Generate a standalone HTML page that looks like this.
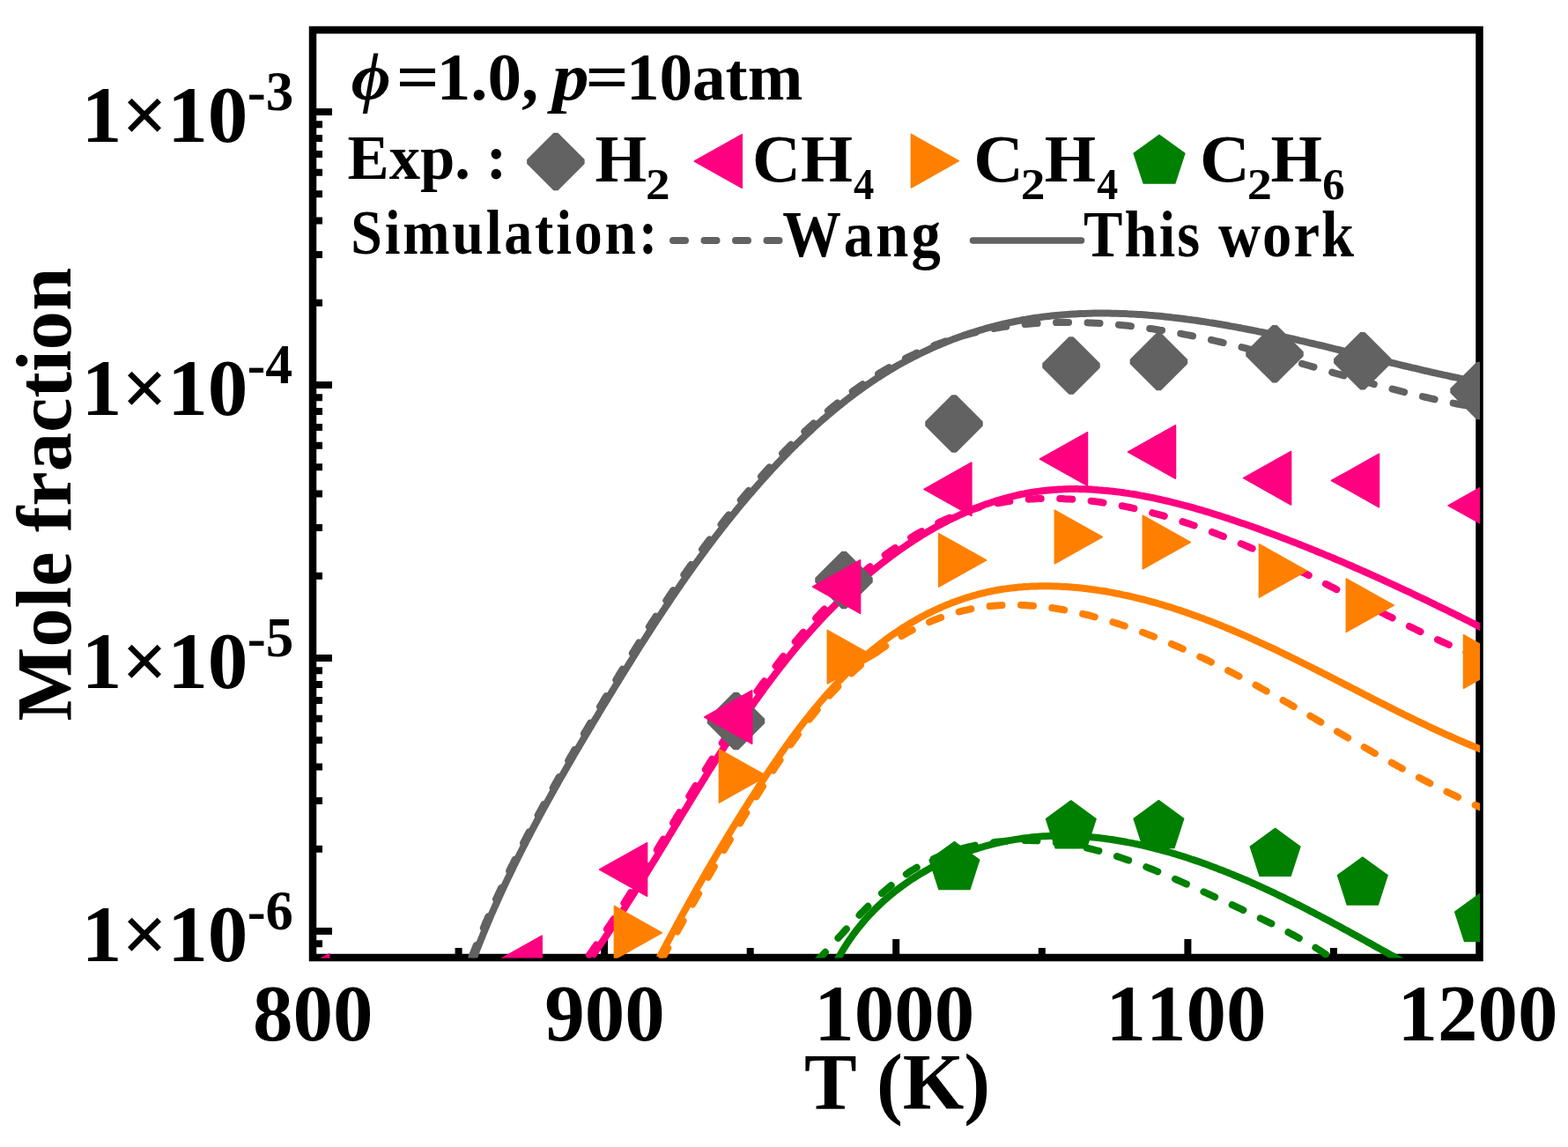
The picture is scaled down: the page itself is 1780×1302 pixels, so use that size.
<!DOCTYPE html>
<html><head><meta charset="utf-8"><title>Mole fraction vs T</title><style>html,body{margin:0;padding:0;background:#fff;overflow:hidden}svg{display:block}text{font-kerning:none;font-variant-ligatures:none}</style></head>
<body><svg width="1780" height="1302" viewBox="0 0 1780 1302">
<defs><clipPath id="c"><rect x="355" y="34" width="1325.0" height="1053.5"/></clipPath></defs>
<rect width="1780" height="1302" fill="#fff"/>
<g font-family="Liberation Serif, 'Times New Roman', serif" font-weight="bold" fill="#000">
<text transform="translate(92.70,160.80) scale(1.0022,1)" font-size="91">1×10</text>
<text transform="translate(280.69,124.80)" font-size="63">-3</text>
<text transform="translate(92.70,470.80) scale(1.0022,1)" font-size="91">1×10</text>
<text transform="translate(280.74,434.80) scale(0.9795,1)" font-size="63">-4</text>
<text transform="translate(92.70,780.80) scale(1.0022,1)" font-size="91">1×10</text>
<text transform="translate(280.69,744.80) scale(1.0028,1)" font-size="63">-5</text>
<text transform="translate(92.70,1090.80) scale(1.0022,1)" font-size="91">1×10</text>
<text transform="translate(280.71,1054.80) scale(0.9932,1)" font-size="63">-6</text>
<text transform="translate(286.97,1181.00)" font-size="91">800</text>
<text transform="translate(618.36,1181.00)" font-size="91">900</text>
<text transform="translate(924.34,1181.00)" font-size="91">1000</text>
<text transform="translate(1255.46,1181.00)" font-size="91">1100</text>
<text transform="translate(1586.59,1181.00)" font-size="91">1200</text>
<text transform="translate(912.90,1258.70) scale(0.9941,1)" font-size="90">T (K)</text>
<text transform="translate(80,818.52) rotate(-90) scale(0.9968,1)" font-size="89">Mole fraction</text>
<text transform="translate(398.69,112.90) scale(1.0063,1)" font-size="77" font-style="italic">ϕ</text>
<text transform="translate(449.73,112.90) scale(1.1147,1)" font-size="77">=</text>
<text transform="translate(495.64,112.90)" font-size="77">1.0,</text>
<text transform="translate(626.93,112.90) scale(1.0802,1)" font-size="77" font-style="italic">p</text>
<text transform="translate(664.49,112.90) scale(1.1231,1)" font-size="77">=</text>
<text transform="translate(710.88,112.90) scale(0.9762,1)" font-size="77">10atm</text>
<text transform="translate(394.59,202.90) scale(0.9814,1)" font-size="72">Exp. :</text>
<text transform="translate(675.61,206.20) scale(0.9920,1)" font-size="76">H</text>
<text transform="translate(732.98,226.00) scale(1.1035,1)" font-size="50">2</text>
<text transform="translate(854.09,206.20) scale(0.9988,1)" font-size="76">CH</text>
<text transform="translate(969.06,226.00) scale(0.9321,1)" font-size="50">4</text>
<text transform="translate(1105.17,206.20) scale(1.0312,1)" font-size="76">C</text>
<text transform="translate(1158.67,226.00) scale(1.1083,1)" font-size="50">2</text>
<text transform="translate(1185.82,206.20) scale(0.9867,1)" font-size="76">H</text>
<text transform="translate(1245.15,226.00) scale(0.9577,1)" font-size="50">4</text>
<text transform="translate(1362.06,206.20) scale(1.0356,1)" font-size="76">C</text>
<text transform="translate(1415.63,226.00) scale(1.1276,1)" font-size="50">2</text>
<text transform="translate(1442.62,206.20) scale(0.9884,1)" font-size="76">H</text>
<text transform="translate(1501.27,226.00) scale(1.0125,1)" font-size="50">6</text>
<text transform="translate(398.30,288.10) scale(0.9000,1)" font-size="71" letter-spacing="3.16">Simulation:</text>
<text transform="translate(888.16,291.20) scale(0.9000,1)" font-size="74" letter-spacing="3.46">Wang</text>
<text transform="translate(1230.06,291.20) scale(0.9000,1)" font-size="74" letter-spacing="2.31">This work</text>
</g>
<path d="M355,1071.2h11 M355,1057.0h22 M355,963.7h11 M355,909.1h11 M355,870.4h11 M355,840.3h11 M355,815.8h11 M355,795.0h11 M355,777.0h11 M355,761.2h11 M355,747.0h22 M355,653.7h11 M355,599.1h11 M355,560.4h11 M355,530.3h11 M355,505.8h11 M355,485.0h11 M355,467.0h11 M355,451.2h11 M355,437.0h22 M355,343.7h11 M355,289.1h11 M355,250.4h11 M355,220.3h11 M355,195.8h11 M355,175.0h11 M355,157.0h11 M355,141.2h11 M355,127.0h22 M520.6,1087v-11 M686.1,1087v-21 M851.7,1087v-11 M1017.2,1087v-21 M1182.8,1087v-11 M1348.4,1087v-21 M1513.9,1087v-11" stroke="#000" stroke-width="8" fill="none"/>
<rect x="355" y="34" width="1324.5" height="1053" fill="none" stroke="#000" stroke-width="8.5"/>
<g clip-path="url(#c)">
<path d="M535.5,1086.1 L536.6,1083.3 L537.7,1080.5 L538.8,1077.7 L539.9,1074.9 L541.0,1072.1 L542.1,1069.4 L543.2,1066.6 L544.4,1063.8 L545.5,1061.0 L546.7,1058.3 L547.8,1055.5 L549.0,1052.8 L550.1,1050.0 L551.3,1047.2 L552.5,1044.5 L553.7,1041.7 L554.9,1039.0 L556.1,1036.2 L557.3,1033.5 L558.5,1030.8 L559.7,1028.0 L561.0,1025.3 L562.2,1022.6 L563.4,1019.8 L564.7,1017.1 L565.9,1014.4 L567.2,1011.7 L568.5,1009.0 L569.7,1006.3 L571.0,1003.5 L572.3,1000.8 L573.6,998.1 L574.9,995.4 L576.2,992.7 L577.5,990.0 L578.8,987.3 L580.1,984.6 L581.4,982.0 L582.8,979.3 L584.1,976.6 L585.4,973.9 L586.8,971.2 L588.1,968.5 L589.5,965.9 L590.8,963.2 L592.2,960.5 L593.6,957.9 L594.9,955.2 L596.3,952.5 L597.7,949.9 L599.1,947.2 L600.5,944.6 L601.9,941.9 L603.3,939.3 L604.7,936.6 L606.1,934.0 L607.5,931.3 L608.9,928.7 L610.3,926.0 L611.7,923.4 L613.1,920.8 L614.6,918.1 L616.0,915.5 L617.4,912.9 L618.9,910.2 L620.3,907.6 L621.8,905.0 L623.2,902.4 L624.7,899.7 L626.1,897.1 L627.6,894.5 L629.0,891.9 L630.5,889.3 L632.0,886.7 L633.4,884.1 L634.9,881.4 L636.4,878.8 L637.9,876.2 L639.3,873.6 L640.8,871.0 L642.3,868.4 L643.8,865.8 L645.3,863.2 L646.8,860.6 L648.3,858.0 L649.8,855.4 L651.3,852.8 L652.8,850.2 L654.3,847.7 L655.8,845.1 L657.3,842.5 L658.8,839.9 L660.3,837.3 L661.8,834.7 L663.3,832.1 L664.9,829.5 L666.4,827.0 L667.9,824.4 L669.4,821.8 L670.9,819.2 L672.5,816.6 L674.0,814.1 L675.5,811.5 L677.0,808.9 L678.6,806.3 L680.1,803.7 L681.6,801.2 L683.2,798.6 L684.7,796.0 L686.2,793.4 L687.8,790.9 L689.3,788.3 L690.8,785.7 L692.4,783.2 L693.9,780.6 L695.5,778.0 L697.0,775.5 L698.6,772.9 L700.1,770.3 L701.7,767.8 L703.2,765.2 L704.8,762.7 L706.4,760.1 L707.9,757.5 L709.5,755.0 L711.1,752.4 L712.6,749.9 L714.2,747.3 L715.8,744.8 L717.4,742.2 L719.0,739.7 L720.5,737.2 L722.1,734.6 L723.7,732.1 L725.3,729.5 L726.9,727.0 L728.5,724.5 L730.1,722.0 L731.7,719.4 L733.3,716.9 L735.0,714.4 L736.6,711.9 L738.2,709.3 L739.8,706.8 L741.5,704.3 L743.1,701.8 L744.7,699.3 L746.4,696.8 L748.0,694.3 L749.7,691.8 L751.3,689.3 L753.0,686.8 L754.6,684.3 L756.3,681.8 L758.0,679.3 L759.6,676.8 L761.3,674.3 L763.0,671.8 L764.7,669.4 L766.4,666.9 L768.1,664.4 L769.8,662.0 L771.5,659.5 L773.2,657.0 L774.9,654.6 L776.6,652.1 L778.3,649.7 L780.1,647.2 L781.8,644.8 L783.5,642.3 L785.3,639.9 L787.0,637.5 L788.8,635.0 L790.5,632.6 L792.3,630.2 L794.1,627.8 L795.8,625.3 L797.6,622.9 L799.4,620.5 L801.2,618.1 L803.0,615.7 L804.8,613.3 L806.6,610.9 L808.4,608.6 L810.2,606.2 L812.0,603.8 L813.9,601.4 L815.7,599.0 L817.5,596.7 L819.4,594.3 L821.2,592.0 L823.1,589.6 L824.9,587.3 L826.8,584.9 L828.7,582.6 L830.6,580.2 L832.4,577.9 L834.3,575.6 L836.2,573.3 L838.1,571.0 L840.0,568.6 L842.0,566.3 L843.9,564.0 L845.8,561.8 L847.7,559.5 L849.7,557.2 L851.6,554.9 L853.6,552.6 L855.5,550.4 L857.5,548.1 L859.5,545.9 L861.5,543.6 L863.5,541.4 L865.5,539.1 L867.5,536.9 L869.5,534.7 L871.5,532.5 L873.5,530.3 L875.5,528.1 L877.6,525.9 L879.6,523.7 L881.7,521.5 L883.7,519.3 L885.8,517.1 L887.9,515.0 L890.0,512.8 L892.1,510.7 L894.2,508.6 L896.3,506.4 L898.4,504.3 L900.5,502.2 L902.7,500.1 L904.8,498.0 L907.0,495.9 L909.1,493.9 L911.3,491.8 L913.5,489.7 L915.7,487.7 L917.9,485.7 L920.1,483.6 L922.3,481.6 L924.5,479.6 L926.7,477.6 L929.0,475.6 L931.2,473.6 L933.5,471.7 L935.8,469.7 L938.1,467.8 L940.4,465.9 L942.7,463.9 L945.0,462.0 L947.3,460.1 L949.6,458.3 L952.0,456.4 L954.3,454.5 L956.7,452.7 L959.0,450.9 L961.4,449.0 L963.8,447.2 L966.2,445.4 L968.6,443.7 L971.1,441.9 L973.5,440.2 L975.9,438.4 L978.4,436.7 L980.9,435.0 L983.3,433.3 L985.8,431.6 L988.3,430.0 L990.8,428.4 L993.4,426.7 L995.9,425.1 L998.4,423.5 L1001.0,422.0 L1003.5,420.4 L1006.1,418.9 L1008.7,417.4 L1011.3,415.9 L1013.9,414.4 L1016.5,412.9 L1019.1,411.5 L1021.8,410.1 L1024.4,408.7 L1027.1,407.3 L1029.7,405.9 L1032.4,404.6 L1035.1,403.3 L1037.8,402.0 L1040.5,400.7 L1043.3,399.4 L1046.0,398.2 L1048.7,397.0 L1051.5,395.8 L1054.2,394.6 L1057.0,393.5 L1059.8,392.4 L1062.6,391.3 L1065.4,390.2 L1068.2,389.2 L1071.0,388.2 L1073.8,387.2 L1076.7,386.2 L1079.5,385.2 L1082.4,384.3 L1085.2,383.4 L1088.1,382.6 L1091.0,381.7 L1093.8,380.9 L1096.7,380.1 L1099.6,379.3 L1102.5,378.6 L1105.4,377.9 L1108.3,377.2 L1111.3,376.5 L1114.2,375.8 L1117.1,375.2 L1120.1,374.6 L1123.0,374.0 L1125.9,373.4 L1128.9,372.9 L1131.8,372.4 L1134.8,371.9 L1137.7,371.4 L1140.7,370.9 L1143.7,370.5 L1146.6,370.1 L1149.6,369.7 L1152.6,369.3 L1155.6,369.0 L1158.5,368.6 L1161.5,368.3 L1164.5,368.0 L1167.5,367.8 L1170.5,367.5 L1173.5,367.3 L1176.4,367.1 L1179.4,366.9 L1182.4,366.7 L1185.4,366.5 L1188.4,366.4 L1191.4,366.3 L1194.4,366.2 L1197.4,366.1 L1200.4,366.0 L1203.4,365.9 L1206.4,365.9 L1209.4,365.9 L1212.4,365.9 L1215.4,365.9 L1218.4,365.9 L1221.4,365.9 L1224.4,366.0 L1227.3,366.1 L1230.3,366.2 L1233.3,366.3 L1236.3,366.4 L1239.3,366.5 L1242.3,366.7 L1245.3,366.8 L1248.3,367.0 L1251.3,367.2 L1254.3,367.4 L1257.3,367.6 L1260.3,367.9 L1263.2,368.1 L1266.2,368.4 L1269.2,368.6 L1272.2,368.9 L1275.2,369.2 L1278.2,369.5 L1281.1,369.8 L1284.1,370.2 L1287.1,370.5 L1290.1,370.9 L1293.0,371.3 L1296.0,371.6 L1299.0,372.0 L1301.9,372.5 L1304.9,372.9 L1307.9,373.3 L1310.8,373.7 L1313.8,374.2 L1316.8,374.7 L1319.7,375.1 L1322.7,375.6 L1325.6,376.1 L1328.6,376.6 L1331.5,377.1 L1334.5,377.7 L1337.4,378.2 L1340.4,378.7 L1343.3,379.3 L1346.3,379.9 L1349.2,380.4 L1352.2,381.0 L1355.1,381.6 L1358.0,382.2 L1361.0,382.8 L1363.9,383.4 L1366.8,384.1 L1369.7,384.7 L1372.7,385.4 L1375.6,386.0 L1378.5,386.7 L1381.4,387.3 L1384.4,388.0 L1387.3,388.7 L1390.2,389.4 L1393.1,390.1 L1396.0,390.8 L1398.9,391.5 L1401.8,392.2 L1404.7,392.9 L1407.7,393.7 L1410.6,394.4 L1413.5,395.1 L1416.4,395.9 L1419.3,396.6 L1422.2,397.4 L1425.1,398.2 L1428.0,398.9 L1430.8,399.7 L1433.7,400.5 L1436.6,401.3 L1439.5,402.0 L1442.4,402.8 L1445.3,403.6 L1448.2,404.4 L1451.1,405.2 L1454.0,406.0 L1456.9,406.8 L1459.7,407.6 L1462.6,408.4 L1465.5,409.2 L1468.4,410.1 L1471.3,410.9 L1474.2,411.7 L1477.0,412.5 L1479.9,413.3 L1482.8,414.2 L1485.7,415.0 L1488.6,415.8 L1491.4,416.6 L1494.3,417.5 L1497.2,418.3 L1500.1,419.1 L1503.0,420.0 L1505.8,420.8 L1508.7,421.6 L1511.6,422.4 L1514.5,423.3 L1517.4,424.1 L1520.2,424.9 L1523.1,425.7 L1526.0,426.6 L1528.9,427.4 L1531.8,428.2 L1534.7,429.0 L1537.5,429.8 L1540.4,430.6 L1543.3,431.5 L1546.2,432.3 L1549.1,433.1 L1552.0,433.9 L1554.9,434.7 L1557.7,435.5 L1560.6,436.3 L1563.5,437.0 L1566.4,437.8 L1569.3,438.6 L1572.2,439.4 L1575.1,440.2 L1578.0,440.9 L1580.9,441.7 L1583.8,442.4 L1586.7,443.2 L1589.6,443.9 L1592.5,444.7 L1595.4,445.4 L1598.3,446.1 L1601.2,446.8 L1604.1,447.6 L1607.0,448.3 L1610.0,449.0 L1612.9,449.7 L1615.8,450.3 L1618.7,451.0 L1621.6,451.7 L1624.5,452.4 L1627.5,453.0 L1630.4,453.7 L1633.3,454.3 L1636.3,454.9 L1639.2,455.5 L1642.1,456.1 L1645.1,456.7 L1648.0,457.3 L1650.9,457.9 L1653.9,458.5 L1656.8,459.0 L1659.8,459.6 L1662.7,460.1 L1665.7,460.7 L1668.6,461.2 L1671.6,461.7 L1674.5,462.2 L1677.5,462.7 L1680.4,463.1 L1683.4,463.6" stroke="#626262" stroke-width="8" fill="none" stroke-dasharray="14 21.5" stroke-linecap="round"/>
<path d="M668.9,1084.0 L670.7,1081.5 L672.4,1079.1 L674.1,1076.6 L675.8,1074.2 L677.5,1071.7 L679.2,1069.2 L680.9,1066.8 L682.6,1064.3 L684.3,1061.8 L686.0,1059.3 L687.7,1056.8 L689.3,1054.3 L691.0,1051.8 L692.7,1049.3 L694.3,1046.8 L696.0,1044.3 L697.6,1041.8 L699.2,1039.3 L700.9,1036.8 L702.5,1034.3 L704.1,1031.8 L705.8,1029.2 L707.4,1026.7 L709.0,1024.2 L710.6,1021.6 L712.2,1019.1 L713.8,1016.6 L715.4,1014.0 L717.0,1011.5 L718.6,1009.0 L720.2,1006.4 L721.8,1003.9 L723.4,1001.3 L724.9,998.8 L726.5,996.2 L728.1,993.7 L729.7,991.1 L731.2,988.6 L732.8,986.0 L734.4,983.4 L735.9,980.9 L737.5,978.3 L739.0,975.7 L740.6,973.2 L742.1,970.6 L743.7,968.1 L745.3,965.5 L746.8,962.9 L748.4,960.3 L749.9,957.8 L751.4,955.2 L753.0,952.6 L754.5,950.1 L756.1,947.5 L757.6,944.9 L759.2,942.3 L760.7,939.8 L762.3,937.2 L763.8,934.6 L765.3,932.1 L766.9,929.5 L768.4,926.9 L770.0,924.3 L771.5,921.8 L773.1,919.2 L774.6,916.6 L776.2,914.1 L777.7,911.5 L779.3,908.9 L780.8,906.3 L782.4,903.8 L783.9,901.2 L785.5,898.6 L787.0,896.1 L788.6,893.5 L790.1,891.0 L791.7,888.4 L793.3,885.8 L794.8,883.3 L796.4,880.7 L798.0,878.2 L799.5,875.6 L801.1,873.1 L802.7,870.5 L804.3,868.0 L805.9,865.4 L807.5,862.9 L809.0,860.3 L810.6,857.8 L812.2,855.2 L813.8,852.7 L815.4,850.2 L817.1,847.6 L818.7,845.1 L820.3,842.6 L821.9,840.1 L823.5,837.5 L825.2,835.0 L826.8,832.5 L828.4,830.0 L830.1,827.5 L831.7,825.0 L833.4,822.5 L835.1,820.0 L836.7,817.5 L838.4,815.0 L840.1,812.5 L841.7,810.0 L843.4,807.5 L845.1,805.1 L846.8,802.6 L848.5,800.1 L850.2,797.7 L851.9,795.2 L853.7,792.7 L855.4,790.3 L857.1,787.8 L858.9,785.4 L860.6,783.0 L862.4,780.5 L864.1,778.1 L865.9,775.7 L867.7,773.3 L869.5,770.8 L871.2,768.4 L873.0,766.0 L874.8,763.6 L876.7,761.2 L878.5,758.9 L880.3,756.5 L882.1,754.1 L884.0,751.7 L885.8,749.4 L887.7,747.0 L889.5,744.7 L891.4,742.3 L893.3,740.0 L895.2,737.6 L897.1,735.3 L899.0,733.0 L900.9,730.7 L902.8,728.4 L904.8,726.1 L906.7,723.8 L908.6,721.5 L910.6,719.2 L912.6,717.0 L914.5,714.7 L916.5,712.5 L918.5,710.2 L920.5,708.0 L922.5,705.8 L924.5,703.5 L926.6,701.3 L928.6,699.1 L930.6,696.9 L932.7,694.7 L934.8,692.6 L936.8,690.4 L938.9,688.2 L941.0,686.1 L943.1,683.9 L945.2,681.8 L947.3,679.7 L949.5,677.6 L951.6,675.5 L953.8,673.4 L955.9,671.3 L958.1,669.3 L960.3,667.2 L962.5,665.2 L964.7,663.1 L966.9,661.1 L969.1,659.1 L971.4,657.1 L973.6,655.1 L975.9,653.1 L978.2,651.2 L980.4,649.2 L982.7,647.3 L985.0,645.4 L987.4,643.5 L989.7,641.6 L992.0,639.7 L994.4,637.9 L996.8,636.0 L999.1,634.2 L1001.5,632.4 L1003.9,630.6 L1006.3,628.8 L1008.8,627.0 L1011.2,625.3 L1013.7,623.6 L1016.1,621.9 L1018.6,620.2 L1021.1,618.5 L1023.6,616.8 L1026.1,615.2 L1028.6,613.6 L1031.2,612.0 L1033.7,610.4 L1036.3,608.9 L1038.9,607.3 L1041.5,605.8 L1044.1,604.3 L1046.7,602.9 L1049.3,601.4 L1052.0,600.0 L1054.6,598.6 L1057.3,597.2 L1060.0,595.9 L1062.7,594.6 L1065.4,593.3 L1068.1,592.0 L1070.8,590.8 L1073.6,589.5 L1076.3,588.4 L1079.1,587.2 L1081.9,586.1 L1084.6,585.0 L1087.4,583.9 L1090.3,582.8 L1093.1,581.8 L1095.9,580.8 L1098.8,579.9 L1101.6,579.0 L1104.5,578.1 L1107.4,577.2 L1110.2,576.4 L1113.1,575.6 L1116.0,574.9 L1119.0,574.1 L1121.9,573.5 L1124.8,572.8 L1127.7,572.2 L1130.7,571.6 L1133.6,571.0 L1136.6,570.5 L1139.5,570.0 L1142.5,569.5 L1145.5,569.1 L1148.4,568.7 L1151.4,568.3 L1154.4,567.9 L1157.4,567.6 L1160.4,567.3 L1163.3,567.1 L1166.3,566.8 L1169.3,566.6 L1172.3,566.4 L1175.3,566.3 L1178.3,566.1 L1181.3,566.0 L1184.3,566.0 L1187.3,565.9 L1190.3,565.9 L1193.3,565.9 L1196.3,565.9 L1199.3,566.0 L1202.3,566.0 L1205.3,566.1 L1208.3,566.3 L1211.3,566.4 L1214.3,566.6 L1217.3,566.8 L1220.3,567.0 L1223.3,567.2 L1226.3,567.5 L1229.3,567.7 L1232.2,568.0 L1235.2,568.3 L1238.2,568.7 L1241.2,569.0 L1244.2,569.4 L1247.1,569.8 L1250.1,570.2 L1253.1,570.7 L1256.0,571.1 L1259.0,571.6 L1262.0,572.1 L1264.9,572.6 L1267.9,573.1 L1270.8,573.7 L1273.8,574.2 L1276.7,574.8 L1279.6,575.4 L1282.6,576.0 L1285.5,576.7 L1288.4,577.3 L1291.4,578.0 L1294.3,578.6 L1297.2,579.3 L1300.1,580.1 L1303.0,580.8 L1305.9,581.5 L1308.8,582.3 L1311.7,583.0 L1314.6,583.8 L1317.5,584.6 L1320.4,585.4 L1323.3,586.3 L1326.2,587.1 L1329.1,588.0 L1331.9,588.8 L1334.8,589.7 L1337.7,590.6 L1340.5,591.5 L1343.4,592.4 L1346.2,593.4 L1349.1,594.3 L1351.9,595.3 L1354.8,596.2 L1357.6,597.2 L1360.4,598.2 L1363.2,599.2 L1366.1,600.2 L1368.9,601.3 L1371.7,602.3 L1374.5,603.4 L1377.3,604.4 L1380.1,605.5 L1382.9,606.6 L1385.7,607.7 L1388.5,608.8 L1391.3,609.9 L1394.1,611.0 L1396.8,612.1 L1399.6,613.3 L1402.4,614.4 L1405.2,615.6 L1407.9,616.8 L1410.7,617.9 L1413.4,619.1 L1416.2,620.3 L1418.9,621.5 L1421.7,622.7 L1424.4,623.9 L1427.2,625.2 L1429.9,626.4 L1432.6,627.6 L1435.4,628.9 L1438.1,630.1 L1440.8,631.4 L1443.5,632.7 L1446.2,633.9 L1449.0,635.2 L1451.7,636.5 L1454.4,637.8 L1457.1,639.1 L1459.8,640.4 L1462.5,641.7 L1465.2,643.0 L1467.9,644.3 L1470.6,645.6 L1473.3,646.9 L1476.0,648.2 L1478.7,649.6 L1481.4,650.9 L1484.0,652.2 L1486.7,653.6 L1489.4,654.9 L1492.1,656.3 L1494.8,657.6 L1497.4,659.0 L1500.1,660.3 L1502.8,661.7 L1505.5,663.1 L1508.1,664.4 L1510.8,665.8 L1513.5,667.1 L1516.2,668.5 L1518.8,669.9 L1521.5,671.2 L1524.2,672.6 L1526.8,674.0 L1529.5,675.4 L1532.2,676.7 L1534.8,678.1 L1537.5,679.5 L1540.2,680.8 L1542.8,682.2 L1545.5,683.6 L1548.2,684.9 L1550.9,686.3 L1553.5,687.7 L1556.2,689.0 L1558.9,690.4 L1561.5,691.8 L1564.2,693.1 L1566.9,694.5 L1569.6,695.8 L1572.2,697.2 L1574.9,698.6 L1577.6,699.9 L1580.3,701.2 L1583.0,702.6 L1585.6,703.9 L1588.3,705.3 L1591.0,706.6 L1593.7,707.9 L1596.4,709.2 L1599.1,710.6 L1601.8,711.9 L1604.5,713.2 L1607.2,714.5 L1609.9,715.8 L1612.6,717.1 L1615.3,718.4 L1618.0,719.7 L1620.7,720.9 L1623.5,722.2 L1626.2,723.5 L1628.9,724.7 L1631.6,726.0 L1634.4,727.2 L1637.1,728.5 L1639.8,729.7 L1642.6,730.9 L1645.3,732.1 L1648.1,733.3 L1650.8,734.5 L1653.6,735.7 L1656.3,736.9 L1659.1,738.1 L1661.8,739.3 L1664.6,740.4 L1667.4,741.6 L1670.2,742.7 L1672.9,743.8 L1675.7,744.9 L1678.5,746.0 L1681.3,747.1 L1684.1,748.2" stroke="#FF0080" stroke-width="8" fill="none" stroke-dasharray="14 21.5" stroke-linecap="round"/>
<path d="M751.5,1088.5 L752.9,1085.9 L754.4,1083.3 L755.9,1080.7 L757.3,1078.1 L758.8,1075.4 L760.2,1072.8 L761.7,1070.2 L763.1,1067.6 L764.6,1065.0 L766.1,1062.4 L767.5,1059.8 L769.0,1057.1 L770.4,1054.5 L771.9,1051.9 L773.4,1049.3 L774.8,1046.7 L776.3,1044.1 L777.8,1041.5 L779.2,1038.9 L780.7,1036.3 L782.2,1033.7 L783.7,1031.1 L785.1,1028.4 L786.6,1025.8 L788.1,1023.2 L789.6,1020.6 L791.0,1018.0 L792.5,1015.4 L794.0,1012.8 L795.5,1010.2 L797.0,1007.6 L798.5,1005.0 L800.0,1002.4 L801.5,999.9 L803.0,997.3 L804.5,994.7 L806.0,992.1 L807.5,989.5 L809.0,986.9 L810.5,984.3 L812.0,981.7 L813.5,979.1 L815.0,976.6 L816.5,974.0 L818.0,971.4 L819.5,968.8 L821.1,966.2 L822.6,963.7 L824.1,961.1 L825.6,958.5 L827.2,955.9 L828.7,953.4 L830.2,950.8 L831.8,948.2 L833.3,945.7 L834.9,943.1 L836.4,940.5 L838.0,938.0 L839.5,935.4 L841.1,932.8 L842.6,930.3 L844.2,927.7 L845.7,925.2 L847.3,922.6 L848.9,920.1 L850.5,917.5 L852.0,915.0 L853.6,912.4 L855.2,909.9 L856.8,907.4 L858.3,904.8 L859.9,902.3 L861.5,899.7 L863.1,897.2 L864.7,894.7 L866.3,892.1 L867.9,889.6 L869.5,887.1 L871.2,884.6 L872.8,882.1 L874.4,879.5 L876.0,877.0 L877.7,874.5 L879.3,872.0 L881.0,869.5 L882.6,867.0 L884.3,864.5 L886.0,862.1 L887.6,859.6 L889.3,857.1 L891.0,854.6 L892.7,852.2 L894.4,849.7 L896.1,847.3 L897.9,844.8 L899.6,842.4 L901.3,839.9 L903.1,837.5 L904.9,835.1 L906.6,832.7 L908.4,830.3 L910.2,827.9 L912.0,825.5 L913.8,823.1 L915.7,820.7 L917.5,818.4 L919.3,816.0 L921.2,813.7 L923.1,811.4 L925.0,809.0 L926.9,806.7 L928.8,804.4 L930.7,802.1 L932.7,799.8 L934.6,797.6 L936.6,795.3 L938.6,793.1 L940.6,790.8 L942.6,788.6 L944.6,786.4 L946.6,784.2 L948.7,782.1 L950.8,779.9 L952.8,777.7 L954.9,775.6 L957.1,773.5 L959.2,771.4 L961.3,769.3 L963.5,767.2 L965.7,765.2 L967.9,763.2 L970.1,761.1 L972.3,759.1 L974.6,757.2 L976.8,755.2 L979.1,753.3 L981.4,751.4 L983.7,749.5 L986.1,747.6 L988.4,745.7 L990.8,743.9 L993.2,742.1 L995.6,740.3 L998.0,738.5 L1000.4,736.8 L1002.9,735.1 L1005.3,733.4 L1007.8,731.7 L1010.3,730.1 L1012.8,728.4 L1015.4,726.8 L1017.9,725.3 L1020.5,723.7 L1023.1,722.2 L1025.7,720.7 L1028.3,719.2 L1030.9,717.8 L1033.5,716.4 L1036.2,715.0 L1038.8,713.6 L1041.5,712.3 L1044.2,711.0 L1046.9,709.7 L1049.7,708.5 L1052.4,707.2 L1055.1,706.1 L1057.9,704.9 L1060.7,703.8 L1063.5,702.7 L1066.3,701.6 L1069.1,700.6 L1071.9,699.6 L1074.7,698.7 L1077.6,697.7 L1080.4,696.9 L1083.3,696.0 L1086.2,695.2 L1089.1,694.4 L1092.0,693.7 L1094.9,692.9 L1097.8,692.3 L1100.7,691.6 L1103.7,691.0 L1106.6,690.5 L1109.6,690.0 L1112.5,689.5 L1115.5,689.1 L1118.4,688.7 L1121.4,688.3 L1124.4,688.0 L1127.4,687.7 L1130.4,687.4 L1133.3,687.2 L1136.3,687.1 L1139.3,686.9 L1142.3,686.8 L1145.3,686.7 L1148.3,686.7 L1151.3,686.7 L1154.3,686.7 L1157.3,686.8 L1160.3,686.9 L1163.3,687.0 L1166.3,687.2 L1169.2,687.4 L1172.2,687.6 L1175.2,687.8 L1178.2,688.1 L1181.2,688.4 L1184.1,688.7 L1187.1,689.1 L1190.1,689.5 L1193.0,689.9 L1196.0,690.3 L1199.0,690.8 L1201.9,691.3 L1204.9,691.8 L1207.8,692.3 L1210.8,692.8 L1213.7,693.4 L1216.6,694.0 L1219.6,694.6 L1222.5,695.3 L1225.4,695.9 L1228.3,696.6 L1231.2,697.3 L1234.1,698.0 L1237.1,698.7 L1239.9,699.5 L1242.8,700.3 L1245.7,701.1 L1248.6,701.9 L1251.5,702.7 L1254.4,703.5 L1257.2,704.4 L1260.1,705.2 L1263.0,706.1 L1265.8,707.0 L1268.7,707.9 L1271.5,708.8 L1274.4,709.8 L1277.2,710.7 L1280.0,711.7 L1282.9,712.7 L1285.7,713.7 L1288.5,714.7 L1291.3,715.7 L1294.1,716.7 L1296.9,717.8 L1299.7,718.8 L1302.5,719.9 L1305.3,721.0 L1308.1,722.0 L1310.9,723.1 L1313.7,724.2 L1316.5,725.4 L1319.2,726.5 L1322.0,727.6 L1324.8,728.8 L1327.5,729.9 L1330.3,731.1 L1333.0,732.3 L1335.8,733.5 L1338.5,734.7 L1341.3,735.9 L1344.0,737.1 L1346.7,738.3 L1349.5,739.6 L1352.2,740.8 L1354.9,742.1 L1357.6,743.3 L1360.3,744.6 L1363.0,745.9 L1365.8,747.1 L1368.5,748.4 L1371.1,749.7 L1373.8,751.0 L1376.5,752.4 L1379.2,753.7 L1381.9,755.0 L1384.6,756.4 L1387.2,757.7 L1389.9,759.1 L1392.6,760.4 L1395.2,761.8 L1397.9,763.1 L1400.6,764.5 L1403.2,765.9 L1405.9,767.3 L1408.5,768.7 L1411.2,770.1 L1413.8,771.5 L1416.5,772.9 L1419.1,774.3 L1421.7,775.7 L1424.4,777.2 L1427.0,778.6 L1429.6,780.0 L1432.2,781.5 L1434.9,782.9 L1437.5,784.4 L1440.1,785.8 L1442.7,787.3 L1445.3,788.7 L1447.9,790.2 L1450.6,791.7 L1453.2,793.1 L1455.8,794.6 L1458.4,796.1 L1461.0,797.6 L1463.6,799.0 L1466.2,800.5 L1468.8,802.0 L1471.4,803.5 L1474.0,805.0 L1476.6,806.5 L1479.2,808.0 L1481.8,809.5 L1484.4,811.0 L1486.9,812.5 L1489.5,813.9 L1492.1,815.4 L1494.7,817.0 L1497.3,818.5 L1499.9,820.0 L1502.5,821.5 L1505.1,823.0 L1507.7,824.5 L1510.3,826.0 L1512.8,827.5 L1515.4,829.0 L1518.0,830.5 L1520.6,832.0 L1523.2,833.5 L1525.8,835.0 L1528.4,836.5 L1531.0,838.0 L1533.6,839.5 L1536.2,841.0 L1538.8,842.5 L1541.3,844.0 L1543.9,845.5 L1546.5,847.0 L1549.1,848.4 L1551.7,849.9 L1554.3,851.4 L1556.9,852.9 L1559.5,854.4 L1562.1,855.8 L1564.7,857.3 L1567.4,858.8 L1570.0,860.3 L1572.6,861.7 L1575.2,863.2 L1577.8,864.6 L1580.4,866.1 L1583.0,867.5 L1585.7,869.0 L1588.3,870.4 L1590.9,871.9 L1593.5,873.3 L1596.2,874.7 L1598.8,876.2 L1601.4,877.6 L1604.1,879.0 L1606.7,880.4 L1609.4,881.8 L1612.0,883.2 L1614.7,884.6 L1617.3,886.0 L1620.0,887.4 L1622.6,888.7 L1625.3,890.1 L1628.0,891.5 L1630.6,892.8 L1633.3,894.2 L1636.0,895.5 L1638.7,896.8 L1641.3,898.2 L1644.0,899.5 L1646.7,900.8 L1649.4,902.1 L1652.1,903.4 L1654.8,904.7 L1657.5,906.0 L1660.2,907.2 L1662.9,908.5 L1665.7,909.8 L1668.4,911.0 L1671.1,912.2 L1673.8,913.5 L1676.6,914.7 L1679.3,915.9 L1682.1,917.1 L1684.8,918.3" stroke="#FF8000" stroke-width="8" fill="none" stroke-dasharray="14 21.5" stroke-linecap="round"/>
<path d="M927.4,1091.0 L929.4,1088.8 L931.5,1086.7 L933.5,1084.5 L935.5,1082.3 L937.6,1080.1 L939.6,1077.9 L941.6,1075.7 L943.6,1073.5 L945.6,1071.3 L947.6,1069.1 L949.6,1066.8 L951.7,1064.6 L953.7,1062.4 L955.7,1060.2 L957.7,1058.0 L959.7,1055.8 L961.7,1053.6 L963.7,1051.4 L965.8,1049.2 L967.8,1047.0 L969.8,1044.8 L971.9,1042.7 L974.0,1040.5 L976.0,1038.3 L978.1,1036.2 L980.2,1034.1 L982.3,1031.9 L984.4,1029.8 L986.5,1027.7 L988.7,1025.6 L990.8,1023.5 L993.0,1021.5 L995.1,1019.4 L997.3,1017.4 L999.5,1015.4 L1001.8,1013.4 L1004.0,1011.4 L1006.3,1009.5 L1008.6,1007.6 L1010.9,1005.7 L1013.2,1003.8 L1015.5,1001.9 L1017.9,1000.1 L1020.3,998.3 L1022.7,996.5 L1025.1,994.8 L1027.6,993.1 L1030.0,991.4 L1032.5,989.7 L1035.0,988.1 L1037.6,986.6 L1040.2,985.0 L1042.7,983.6 L1045.3,982.1 L1048.0,980.7 L1050.6,979.3 L1053.3,978.0 L1056.0,976.7 L1058.7,975.4 L1061.4,974.2 L1064.2,973.0 L1066.9,971.8 L1069.7,970.7 L1072.5,969.6 L1075.3,968.6 L1078.1,967.6 L1080.9,966.6 L1083.8,965.7 L1086.6,964.8 L1089.5,964.0 L1092.4,963.2 L1095.2,962.4 L1098.1,961.6 L1101.0,960.9 L1103.9,960.3 L1106.9,959.6 L1109.8,959.0 L1112.7,958.5 L1115.7,957.9 L1118.6,957.5 L1121.6,957.0 L1124.5,956.6 L1127.5,956.2 L1130.4,955.8 L1133.4,955.5 L1136.4,955.2 L1139.4,954.9 L1142.3,954.7 L1145.3,954.5 L1148.3,954.4 L1151.3,954.2 L1154.3,954.1 L1157.3,954.1 L1160.3,954.0 L1163.2,954.0 L1166.2,954.0 L1169.2,954.1 L1172.2,954.2 L1175.2,954.3 L1178.2,954.4 L1181.2,954.6 L1184.1,954.8 L1187.1,955.1 L1190.1,955.3 L1193.1,955.6 L1196.0,955.9 L1199.0,956.3 L1202.0,956.7 L1204.9,957.1 L1207.9,957.5 L1210.8,958.0 L1213.8,958.5 L1216.7,959.0 L1219.7,959.5 L1222.6,960.1 L1225.5,960.7 L1228.4,961.3 L1231.4,962.0 L1234.3,962.6 L1237.2,963.3 L1240.1,964.0 L1243.0,964.8 L1245.9,965.5 L1248.7,966.3 L1251.6,967.1 L1254.5,967.9 L1257.4,968.8 L1260.2,969.7 L1263.1,970.5 L1265.9,971.4 L1268.8,972.4 L1271.6,973.3 L1274.4,974.2 L1277.3,975.2 L1280.1,976.2 L1282.9,977.2 L1285.7,978.2 L1288.5,979.2 L1291.3,980.3 L1294.1,981.3 L1296.9,982.4 L1299.7,983.5 L1302.4,984.6 L1305.2,985.7 L1308.0,986.8 L1310.8,987.9 L1313.5,989.1 L1316.3,990.2 L1319.0,991.4 L1321.8,992.5 L1324.5,993.7 L1327.3,994.9 L1330.0,996.1 L1332.8,997.3 L1335.5,998.5 L1338.2,999.7 L1341.0,1000.9 L1343.7,1002.1 L1346.4,1003.3 L1349.1,1004.5 L1351.9,1005.8 L1354.6,1007.0 L1357.3,1008.2 L1360.0,1009.5 L1362.7,1010.7 L1365.5,1012.0 L1368.2,1013.2 L1370.9,1014.4 L1373.6,1015.7 L1376.3,1016.9 L1379.0,1018.2 L1381.8,1019.4 L1384.5,1020.7 L1387.2,1021.9 L1389.9,1023.2 L1392.6,1024.4 L1395.3,1025.7 L1398.0,1026.9 L1400.8,1028.2 L1403.5,1029.4 L1406.2,1030.7 L1408.9,1031.9 L1411.6,1033.2 L1414.3,1034.5 L1417.0,1035.7 L1419.7,1037.0 L1422.4,1038.3 L1425.1,1039.6 L1427.8,1040.9 L1430.5,1042.2 L1433.2,1043.5 L1435.9,1044.8 L1438.6,1046.1 L1441.2,1047.4 L1443.9,1048.7 L1446.6,1050.1 L1449.2,1051.4 L1451.9,1052.8 L1454.6,1054.1 L1457.2,1055.5 L1459.9,1056.9 L1462.5,1058.3 L1465.1,1059.7 L1467.8,1061.1 L1470.4,1062.5 L1473.0,1063.9 L1475.6,1065.4 L1478.3,1066.8 L1480.9,1068.3 L1483.4,1069.8 L1486.0,1071.3 L1488.6,1072.8 L1491.2,1074.4 L1493.7,1075.9 L1496.2,1077.5 L1498.8,1079.1 L1501.3,1080.7 L1503.7,1082.4 L1506.2,1084.1 L1508.6,1085.8 L1511.1,1087.6 L1513.4,1089.4 L1515.8,1091.2" stroke="#008000" stroke-width="8" fill="none" stroke-dasharray="14 21.5" stroke-linecap="round"/>
<path d="M538.0,1087.0 L539.1,1084.2 L540.2,1081.4 L541.2,1078.6 L542.3,1075.8 L543.4,1073.0 L544.5,1070.3 L545.6,1067.5 L546.8,1064.7 L547.9,1061.9 L549.0,1059.1 L550.2,1056.4 L551.3,1053.6 L552.5,1050.8 L553.6,1048.0 L554.8,1045.3 L556.0,1042.5 L557.1,1039.8 L558.3,1037.0 L559.5,1034.3 L560.7,1031.5 L561.9,1028.8 L563.2,1026.0 L564.4,1023.3 L565.6,1020.6 L566.9,1017.8 L568.1,1015.1 L569.3,1012.4 L570.6,1009.7 L571.9,1006.9 L573.1,1004.2 L574.4,1001.5 L575.7,998.8 L577.0,996.1 L578.3,993.4 L579.6,990.7 L580.9,988.0 L582.2,985.3 L583.5,982.6 L584.8,979.9 L586.2,977.2 L587.5,974.5 L588.8,971.8 L590.2,969.2 L591.5,966.5 L592.9,963.8 L594.2,961.1 L595.6,958.5 L597.0,955.8 L598.3,953.1 L599.7,950.5 L601.1,947.8 L602.5,945.2 L603.9,942.5 L605.3,939.8 L606.7,937.2 L608.1,934.6 L609.5,931.9 L610.9,929.3 L612.3,926.6 L613.8,924.0 L615.2,921.4 L616.6,918.7 L618.1,916.1 L619.5,913.5 L621.0,910.8 L622.4,908.2 L623.9,905.6 L625.3,903.0 L626.8,900.3 L628.3,897.7 L629.7,895.1 L631.2,892.5 L632.7,889.9 L634.1,887.3 L635.6,884.7 L637.1,882.1 L638.6,879.5 L640.1,876.9 L641.6,874.3 L643.1,871.7 L644.6,869.1 L646.1,866.5 L647.6,863.9 L649.1,861.3 L650.6,858.7 L652.1,856.1 L653.6,853.5 L655.2,850.9 L656.7,848.4 L658.2,845.8 L659.7,843.2 L661.3,840.6 L662.8,838.0 L664.3,835.5 L665.8,832.9 L667.4,830.3 L668.9,827.7 L670.5,825.2 L672.0,822.6 L673.5,820.0 L675.1,817.4 L676.6,814.9 L678.2,812.3 L679.7,809.7 L681.3,807.2 L682.8,804.6 L684.4,802.0 L685.9,799.5 L687.5,796.9 L689.1,794.3 L690.6,791.8 L692.2,789.2 L693.7,786.7 L695.3,784.1 L696.9,781.5 L698.4,779.0 L700.0,776.4 L701.6,773.9 L703.1,771.3 L704.7,768.8 L706.3,766.2 L707.9,763.7 L709.4,761.1 L711.0,758.6 L712.6,756.0 L714.2,753.5 L715.8,750.9 L717.4,748.4 L718.9,745.8 L720.5,743.3 L722.1,740.8 L723.7,738.2 L725.3,735.7 L726.9,733.2 L728.5,730.6 L730.2,728.1 L731.8,725.6 L733.4,723.0 L735.0,720.5 L736.6,718.0 L738.2,715.5 L739.9,713.0 L741.5,710.4 L743.1,707.9 L744.8,705.4 L746.4,702.9 L748.1,700.4 L749.7,697.9 L751.4,695.4 L753.0,692.9 L754.7,690.4 L756.3,687.9 L758.0,685.4 L759.7,682.9 L761.4,680.4 L763.0,677.9 L764.7,675.5 L766.4,673.0 L768.1,670.5 L769.8,668.0 L771.5,665.6 L773.2,663.1 L774.9,660.6 L776.6,658.2 L778.3,655.7 L780.1,653.3 L781.8,650.8 L783.5,648.4 L785.3,645.9 L787.0,643.5 L788.8,641.0 L790.5,638.6 L792.3,636.2 L794.0,633.8 L795.8,631.3 L797.6,628.9 L799.3,626.5 L801.1,624.1 L802.9,621.7 L804.7,619.3 L806.5,616.9 L808.3,614.5 L810.1,612.1 L811.9,609.7 L813.8,607.3 L815.6,605.0 L817.4,602.6 L819.3,600.2 L821.1,597.9 L823.0,595.5 L824.8,593.1 L826.7,590.8 L828.6,588.5 L830.4,586.1 L832.3,583.8 L834.2,581.4 L836.1,579.1 L838.0,576.8 L839.9,574.5 L841.8,572.2 L843.8,569.9 L845.7,567.6 L847.6,565.3 L849.6,563.0 L851.5,560.7 L853.5,558.5 L855.4,556.2 L857.4,553.9 L859.4,551.7 L861.3,549.4 L863.3,547.2 L865.3,544.9 L867.3,542.7 L869.3,540.5 L871.3,538.3 L873.4,536.0 L875.4,533.8 L877.4,531.6 L879.5,529.4 L881.5,527.3 L883.6,525.1 L885.7,522.9 L887.7,520.7 L889.8,518.6 L891.9,516.4 L894.0,514.3 L896.1,512.1 L898.2,510.0 L900.3,507.9 L902.5,505.8 L904.6,503.7 L906.8,501.6 L908.9,499.5 L911.1,497.4 L913.2,495.3 L915.4,493.3 L917.6,491.2 L919.8,489.2 L922.0,487.2 L924.2,485.1 L926.4,483.1 L928.7,481.1 L930.9,479.1 L933.1,477.1 L935.4,475.2 L937.7,473.2 L939.9,471.2 L942.2,469.3 L944.5,467.4 L946.8,465.5 L949.1,463.5 L951.5,461.6 L953.8,459.8 L956.1,457.9 L958.5,456.0 L960.8,454.2 L963.2,452.3 L965.6,450.5 L968.0,448.7 L970.4,446.9 L972.8,445.1 L975.2,443.4 L977.7,441.6 L980.1,439.9 L982.5,438.1 L985.0,436.4 L987.5,434.7 L990.0,433.0 L992.4,431.4 L994.9,429.7 L997.5,428.1 L1000.0,426.4 L1002.5,424.8 L1005.0,423.2 L1007.6,421.7 L1010.2,420.1 L1012.7,418.6 L1015.3,417.0 L1017.9,415.5 L1020.5,414.1 L1023.1,412.6 L1025.7,411.1 L1028.4,409.7 L1031.0,408.3 L1033.7,406.9 L1036.3,405.5 L1039.0,404.1 L1041.7,402.8 L1044.4,401.5 L1047.1,400.2 L1049.8,398.9 L1052.5,397.6 L1055.2,396.3 L1058.0,395.1 L1060.7,393.9 L1063.4,392.7 L1066.2,391.5 L1069.0,390.3 L1071.7,389.2 L1074.5,388.1 L1077.3,387.0 L1080.1,385.9 L1082.9,384.8 L1085.7,383.8 L1088.5,382.8 L1091.4,381.7 L1094.2,380.8 L1097.0,379.8 L1099.9,378.8 L1102.7,377.9 L1105.6,377.0 L1108.4,376.1 L1111.3,375.2 L1114.2,374.4 L1117.1,373.5 L1119.9,372.7 L1122.8,371.9 L1125.7,371.1 L1128.6,370.4 L1131.5,369.6 L1134.4,368.9 L1137.4,368.2 L1140.3,367.5 L1143.2,366.8 L1146.1,366.2 L1149.1,365.6 L1152.0,365.0 L1154.9,364.4 L1157.9,363.8 L1160.8,363.3 L1163.8,362.8 L1166.7,362.2 L1169.7,361.8 L1172.7,361.3 L1175.6,360.8 L1178.6,360.4 L1181.6,360.0 L1184.5,359.6 L1187.5,359.3 L1190.5,358.9 L1193.5,358.6 L1196.5,358.3 L1199.4,358.0 L1202.4,357.7 L1205.4,357.4 L1208.4,357.2 L1211.4,357.0 L1214.4,356.8 L1217.4,356.6 L1220.4,356.4 L1223.4,356.2 L1226.4,356.1 L1229.4,356.0 L1232.4,355.9 L1235.3,355.8 L1238.3,355.7 L1241.3,355.6 L1244.3,355.6 L1247.3,355.6 L1250.3,355.6 L1253.3,355.6 L1256.3,355.6 L1259.3,355.6 L1262.3,355.7 L1265.3,355.7 L1268.3,355.8 L1271.3,355.9 L1274.3,356.0 L1277.3,356.1 L1280.3,356.3 L1283.3,356.4 L1286.3,356.6 L1289.3,356.7 L1292.3,356.9 L1295.3,357.1 L1298.3,357.3 L1301.3,357.5 L1304.3,357.8 L1307.2,358.0 L1310.2,358.3 L1313.2,358.5 L1316.2,358.8 L1319.2,359.1 L1322.2,359.4 L1325.2,359.7 L1328.1,360.0 L1331.1,360.4 L1334.1,360.7 L1337.1,361.1 L1340.0,361.4 L1343.0,361.8 L1346.0,362.2 L1349.0,362.6 L1351.9,363.0 L1354.9,363.4 L1357.9,363.8 L1360.8,364.3 L1363.8,364.7 L1366.8,365.1 L1369.7,365.6 L1372.7,366.1 L1375.7,366.5 L1378.6,367.0 L1381.6,367.5 L1384.5,368.0 L1387.5,368.5 L1390.4,369.0 L1393.4,369.5 L1396.4,370.1 L1399.3,370.6 L1402.3,371.1 L1405.2,371.7 L1408.1,372.2 L1411.1,372.8 L1414.0,373.4 L1417.0,374.0 L1419.9,374.5 L1422.9,375.1 L1425.8,375.7 L1428.7,376.3 L1431.7,376.9 L1434.6,377.5 L1437.6,378.1 L1440.5,378.8 L1443.4,379.4 L1446.3,380.0 L1449.3,380.6 L1452.2,381.3 L1455.1,381.9 L1458.1,382.6 L1461.0,383.2 L1463.9,383.9 L1466.8,384.5 L1469.8,385.2 L1472.7,385.9 L1475.6,386.6 L1478.5,387.2 L1481.5,387.9 L1484.4,388.6 L1487.3,389.3 L1490.2,390.0 L1493.1,390.7 L1496.0,391.3 L1499.0,392.0 L1501.9,392.7 L1504.8,393.4 L1507.7,394.1 L1510.6,394.8 L1513.5,395.6 L1516.5,396.3 L1519.4,397.0 L1522.3,397.7 L1525.2,398.4 L1528.1,399.1 L1531.0,399.8 L1533.9,400.5 L1536.8,401.3 L1539.8,402.0 L1542.7,402.7 L1545.6,403.4 L1548.5,404.1 L1551.4,404.8 L1554.3,405.6 L1557.2,406.3 L1560.1,407.0 L1563.0,407.7 L1566.0,408.4 L1568.9,409.1 L1571.8,409.8 L1574.7,410.5 L1577.6,411.3 L1580.5,412.0 L1583.4,412.7 L1586.4,413.4 L1589.3,414.1 L1592.2,414.8 L1595.1,415.5 L1598.0,416.2 L1600.9,416.9 L1603.9,417.6 L1606.8,418.2 L1609.7,418.9 L1612.6,419.6 L1615.5,420.3 L1618.5,421.0 L1621.4,421.6 L1624.3,422.3 L1627.2,423.0 L1630.2,423.6 L1633.1,424.3 L1636.0,424.9 L1638.9,425.6 L1641.9,426.2 L1644.8,426.8 L1647.7,427.5 L1650.7,428.1 L1653.6,428.7 L1656.5,429.3 L1659.5,429.9 L1662.4,430.5 L1665.3,431.1 L1668.3,431.7 L1671.2,432.3 L1674.2,432.8 L1677.1,433.4 L1680.1,434.0 L1683.0,434.5" stroke="#626262" stroke-width="8" fill="none" stroke-linejoin="round"/>
<path d="M671.9,1085.9 L673.6,1083.5 L675.3,1081.0 L677.1,1078.6 L678.8,1076.1 L680.5,1073.7 L682.2,1071.2 L683.9,1068.7 L685.6,1066.2 L687.2,1063.8 L688.9,1061.3 L690.6,1058.8 L692.3,1056.3 L693.9,1053.8 L695.6,1051.3 L697.2,1048.8 L698.9,1046.3 L700.5,1043.8 L702.2,1041.3 L703.8,1038.8 L705.4,1036.3 L707.0,1033.8 L708.7,1031.2 L710.3,1028.7 L711.9,1026.2 L713.5,1023.7 L715.1,1021.2 L716.7,1018.6 L718.3,1016.1 L719.9,1013.6 L721.5,1011.0 L723.1,1008.5 L724.7,1005.9 L726.3,1003.4 L727.9,1000.9 L729.4,998.3 L731.0,995.8 L732.6,993.2 L734.2,990.7 L735.7,988.1 L737.3,985.6 L738.9,983.0 L740.4,980.5 L742.0,977.9 L743.6,975.4 L745.1,972.8 L746.7,970.2 L748.3,967.7 L749.8,965.1 L751.4,962.6 L752.9,960.0 L754.5,957.5 L756.0,954.9 L757.6,952.3 L759.1,949.8 L760.7,947.2 L762.3,944.7 L763.8,942.1 L765.4,939.5 L766.9,937.0 L768.5,934.4 L770.0,931.8 L771.6,929.3 L773.1,926.7 L774.7,924.2 L776.2,921.6 L777.8,919.1 L779.4,916.5 L780.9,913.9 L782.5,911.4 L784.0,908.8 L785.6,906.3 L787.2,903.7 L788.7,901.2 L790.3,898.6 L791.9,896.1 L793.4,893.5 L795.0,891.0 L796.6,888.4 L798.2,885.9 L799.8,883.3 L801.3,880.8 L802.9,878.2 L804.5,875.7 L806.1,873.2 L807.7,870.6 L809.3,868.1 L810.9,865.6 L812.5,863.0 L814.1,860.5 L815.7,858.0 L817.3,855.5 L819.0,852.9 L820.6,850.4 L822.2,847.9 L823.8,845.4 L825.5,842.9 L827.1,840.4 L828.8,837.9 L830.4,835.4 L832.0,832.9 L833.7,830.4 L835.4,827.9 L837.0,825.4 L838.7,822.9 L840.4,820.4 L842.1,817.9 L843.7,815.5 L845.4,813.0 L847.1,810.5 L848.8,808.1 L850.5,805.6 L852.2,803.1 L854.0,800.7 L855.7,798.2 L857.4,795.8 L859.2,793.4 L860.9,790.9 L862.7,788.5 L864.4,786.1 L866.2,783.6 L867.9,781.2 L869.7,778.8 L871.5,776.4 L873.3,774.0 L875.1,771.6 L876.9,769.2 L878.7,766.8 L880.5,764.4 L882.3,762.1 L884.2,759.7 L886.0,757.3 L887.9,755.0 L889.7,752.6 L891.6,750.3 L893.4,747.9 L895.3,745.6 L897.2,743.3 L899.1,741.0 L901.0,738.6 L902.9,736.3 L904.8,734.0 L906.8,731.7 L908.7,729.5 L910.6,727.2 L912.6,724.9 L914.6,722.6 L916.5,720.4 L918.5,718.1 L920.5,715.9 L922.5,713.7 L924.5,711.4 L926.5,709.2 L928.5,707.0 L930.6,704.8 L932.6,702.6 L934.7,700.5 L936.7,698.3 L938.8,696.1 L940.9,694.0 L943.0,691.8 L945.1,689.7 L947.2,687.6 L949.3,685.4 L951.4,683.3 L953.6,681.2 L955.7,679.1 L957.9,677.1 L960.0,675.0 L962.2,672.9 L964.4,670.9 L966.6,668.9 L968.8,666.8 L971.0,664.8 L973.3,662.8 L975.5,660.8 L977.7,658.9 L980.0,656.9 L982.3,654.9 L984.6,653.0 L986.8,651.1 L989.1,649.1 L991.4,647.2 L993.8,645.3 L996.1,643.4 L998.4,641.6 L1000.8,639.7 L1003.1,637.9 L1005.5,636.0 L1007.9,634.2 L1010.3,632.4 L1012.7,630.6 L1015.1,628.9 L1017.5,627.1 L1020.0,625.3 L1022.4,623.6 L1024.8,621.9 L1027.3,620.2 L1029.8,618.5 L1032.3,616.8 L1034.8,615.2 L1037.3,613.5 L1039.8,611.9 L1042.3,610.3 L1044.9,608.7 L1047.4,607.1 L1050.0,605.6 L1052.5,604.0 L1055.1,602.5 L1057.7,601.0 L1060.3,599.5 L1062.9,598.1 L1065.5,596.6 L1068.2,595.2 L1070.8,593.8 L1073.5,592.4 L1076.1,591.0 L1078.8,589.7 L1081.5,588.4 L1084.2,587.1 L1086.9,585.8 L1089.6,584.5 L1092.3,583.3 L1095.1,582.0 L1097.8,580.8 L1100.6,579.7 L1103.3,578.5 L1106.1,577.4 L1108.9,576.3 L1111.7,575.2 L1114.5,574.2 L1117.3,573.1 L1120.1,572.1 L1123.0,571.2 L1125.8,570.2 L1128.7,569.3 L1131.5,568.4 L1134.4,567.5 L1137.3,566.7 L1140.1,565.8 L1143.0,565.1 L1145.9,564.3 L1148.8,563.6 L1151.7,562.9 L1154.7,562.2 L1157.6,561.5 L1160.5,560.9 L1163.5,560.3 L1166.4,559.8 L1169.3,559.3 L1172.3,558.8 L1175.3,558.3 L1178.2,557.9 L1181.2,557.5 L1184.2,557.1 L1187.1,556.8 L1190.1,556.5 L1193.1,556.2 L1196.1,556.0 L1199.1,555.8 L1202.1,555.6 L1205.1,555.4 L1208.1,555.3 L1211.0,555.2 L1214.0,555.1 L1217.0,555.1 L1220.0,555.1 L1223.0,555.1 L1226.0,555.2 L1229.0,555.2 L1232.0,555.3 L1235.0,555.4 L1238.0,555.6 L1241.0,555.8 L1244.0,555.9 L1247.0,556.2 L1249.9,556.4 L1252.9,556.7 L1255.9,556.9 L1258.9,557.2 L1261.9,557.6 L1264.8,557.9 L1267.8,558.3 L1270.8,558.6 L1273.8,559.0 L1276.7,559.5 L1279.7,559.9 L1282.6,560.4 L1285.6,560.8 L1288.6,561.3 L1291.5,561.8 L1294.5,562.4 L1297.4,562.9 L1300.3,563.5 L1303.3,564.0 L1306.2,564.6 L1309.2,565.2 L1312.1,565.9 L1315.0,566.5 L1317.9,567.1 L1320.9,567.8 L1323.8,568.5 L1326.7,569.2 L1329.6,569.9 L1332.5,570.6 L1335.4,571.3 L1338.3,572.1 L1341.2,572.8 L1344.1,573.6 L1347.0,574.3 L1349.9,575.1 L1352.8,575.9 L1355.7,576.7 L1358.6,577.6 L1361.4,578.4 L1364.3,579.2 L1367.2,580.1 L1370.0,580.9 L1372.9,581.8 L1375.8,582.7 L1378.6,583.6 L1381.5,584.5 L1384.4,585.4 L1387.2,586.3 L1390.1,587.2 L1392.9,588.1 L1395.7,589.1 L1398.6,590.0 L1401.4,591.0 L1404.3,591.9 L1407.1,592.9 L1409.9,593.9 L1412.8,594.8 L1415.6,595.8 L1418.4,596.8 L1421.3,597.8 L1424.1,598.8 L1426.9,599.8 L1429.7,600.8 L1432.5,601.8 L1435.3,602.9 L1438.2,603.9 L1441.0,604.9 L1443.8,606.0 L1446.6,607.0 L1449.4,608.1 L1452.2,609.1 L1455.0,610.2 L1457.8,611.2 L1460.6,612.3 L1463.4,613.4 L1466.2,614.5 L1469.0,615.5 L1471.8,616.6 L1474.6,617.7 L1477.3,618.8 L1480.1,619.9 L1482.9,621.0 L1485.7,622.1 L1488.5,623.3 L1491.2,624.4 L1494.0,625.5 L1496.8,626.7 L1499.6,627.8 L1502.3,628.9 L1505.1,630.1 L1507.9,631.2 L1510.6,632.4 L1513.4,633.5 L1516.2,634.7 L1518.9,635.9 L1521.7,637.0 L1524.4,638.2 L1527.2,639.4 L1529.9,640.6 L1532.7,641.8 L1535.4,643.0 L1538.2,644.2 L1540.9,645.4 L1543.7,646.6 L1546.4,647.8 L1549.1,649.0 L1551.9,650.2 L1554.6,651.4 L1557.3,652.7 L1560.1,653.9 L1562.8,655.1 L1565.5,656.3 L1568.3,657.6 L1571.0,658.8 L1573.7,660.1 L1576.4,661.3 L1579.2,662.6 L1581.9,663.8 L1584.6,665.1 L1587.3,666.4 L1590.0,667.6 L1592.7,668.9 L1595.4,670.2 L1598.2,671.4 L1600.9,672.7 L1603.6,674.0 L1606.3,675.3 L1609.0,676.6 L1611.7,677.9 L1614.4,679.1 L1617.1,680.4 L1619.8,681.7 L1622.5,683.0 L1625.2,684.3 L1627.9,685.7 L1630.6,687.0 L1633.3,688.3 L1636.0,689.6 L1638.6,690.9 L1641.3,692.2 L1644.0,693.5 L1646.7,694.9 L1649.4,696.2 L1652.1,697.5 L1654.8,698.9 L1657.4,700.2 L1660.1,701.5 L1662.8,702.9 L1665.5,704.2 L1668.2,705.5 L1670.8,706.9 L1673.5,708.2 L1676.2,709.6 L1678.9,710.9 L1681.5,712.3 L1684.2,713.6" stroke="#FF0080" stroke-width="8" fill="none" stroke-linejoin="round"/>
<path d="M748.6,1087.1 L749.9,1084.5 L751.3,1081.8 L752.7,1079.2 L754.1,1076.5 L755.5,1073.9 L756.9,1071.2 L758.3,1068.6 L759.7,1066.0 L761.1,1063.3 L762.5,1060.7 L763.9,1058.0 L765.4,1055.4 L766.8,1052.8 L768.2,1050.1 L769.6,1047.5 L771.1,1044.9 L772.5,1042.2 L773.9,1039.6 L775.4,1037.0 L776.8,1034.4 L778.3,1031.8 L779.7,1029.1 L781.2,1026.5 L782.6,1023.9 L784.1,1021.3 L785.5,1018.7 L787.0,1016.1 L788.5,1013.5 L789.9,1010.9 L791.4,1008.2 L792.9,1005.6 L794.4,1003.0 L795.9,1000.4 L797.3,997.8 L798.8,995.3 L800.3,992.7 L801.8,990.1 L803.3,987.5 L804.8,984.9 L806.3,982.3 L807.9,979.7 L809.4,977.1 L810.9,974.6 L812.4,972.0 L813.9,969.4 L815.5,966.8 L817.0,964.3 L818.5,961.7 L820.1,959.1 L821.6,956.6 L823.2,954.0 L824.7,951.4 L826.3,948.9 L827.8,946.3 L829.4,943.8 L830.9,941.2 L832.5,938.7 L834.1,936.1 L835.6,933.6 L837.2,931.0 L838.8,928.5 L840.4,925.9 L842.0,923.4 L843.5,920.9 L845.1,918.3 L846.7,915.8 L848.3,913.3 L849.9,910.7 L851.5,908.2 L853.1,905.7 L854.8,903.2 L856.4,900.6 L858.0,898.1 L859.6,895.6 L861.2,893.1 L862.9,890.6 L864.5,888.1 L866.1,885.6 L867.8,883.1 L869.4,880.6 L871.1,878.1 L872.7,875.6 L874.4,873.1 L876.1,870.6 L877.8,868.1 L879.4,865.7 L881.1,863.2 L882.8,860.7 L884.5,858.3 L886.2,855.8 L887.9,853.4 L889.7,850.9 L891.4,848.5 L893.1,846.0 L894.9,843.6 L896.6,841.2 L898.4,838.7 L900.2,836.3 L901.9,833.9 L903.7,831.5 L905.5,829.1 L907.3,826.7 L909.1,824.4 L910.9,822.0 L912.8,819.6 L914.6,817.2 L916.5,814.9 L918.3,812.6 L920.2,810.2 L922.1,807.9 L924.0,805.6 L925.9,803.3 L927.8,801.0 L929.7,798.7 L931.6,796.4 L933.6,794.1 L935.6,791.8 L937.5,789.6 L939.5,787.3 L941.5,785.1 L943.5,782.9 L945.5,780.7 L947.5,778.5 L949.6,776.3 L951.6,774.1 L953.7,772.0 L955.8,769.8 L957.9,767.7 L960.0,765.5 L962.1,763.4 L964.3,761.3 L966.4,759.3 L968.6,757.2 L970.8,755.1 L972.9,753.1 L975.1,751.1 L977.4,749.1 L979.6,747.1 L981.9,745.1 L984.1,743.1 L986.4,741.2 L988.7,739.3 L991.0,737.4 L993.3,735.5 L995.7,733.6 L998.0,731.8 L1000.4,729.9 L1002.8,728.1 L1005.1,726.3 L1007.6,724.5 L1010.0,722.8 L1012.4,721.1 L1014.9,719.4 L1017.4,717.7 L1019.8,716.0 L1022.3,714.4 L1024.9,712.7 L1027.4,711.1 L1029.9,709.6 L1032.5,708.0 L1035.1,706.5 L1037.7,705.0 L1040.3,703.5 L1042.9,702.0 L1045.5,700.6 L1048.1,699.2 L1050.8,697.8 L1053.5,696.4 L1056.1,695.1 L1058.8,693.8 L1061.5,692.5 L1064.2,691.3 L1067.0,690.0 L1069.7,688.8 L1072.5,687.6 L1075.2,686.5 L1078.0,685.4 L1080.8,684.3 L1083.6,683.2 L1086.4,682.2 L1089.2,681.2 L1092.0,680.2 L1094.9,679.3 L1097.7,678.3 L1100.6,677.5 L1103.5,676.6 L1106.3,675.8 L1109.2,675.0 L1112.1,674.2 L1115.0,673.5 L1117.9,672.8 L1120.8,672.1 L1123.8,671.5 L1126.7,670.9 L1129.6,670.3 L1132.6,669.8 L1135.5,669.3 L1138.5,668.8 L1141.5,668.4 L1144.4,668.0 L1147.4,667.6 L1150.4,667.2 L1153.3,666.9 L1156.3,666.6 L1159.3,666.4 L1162.3,666.1 L1165.3,665.9 L1168.3,665.8 L1171.2,665.6 L1174.2,665.5 L1177.2,665.4 L1180.2,665.3 L1183.2,665.3 L1186.2,665.3 L1189.2,665.3 L1192.2,665.3 L1195.2,665.4 L1198.2,665.5 L1201.2,665.6 L1204.2,665.7 L1207.1,665.9 L1210.1,666.1 L1213.1,666.3 L1216.1,666.5 L1219.1,666.7 L1222.1,667.0 L1225.0,667.3 L1228.0,667.6 L1231.0,667.9 L1234.0,668.3 L1236.9,668.7 L1239.9,669.1 L1242.9,669.5 L1245.8,669.9 L1248.8,670.4 L1251.7,670.8 L1254.7,671.3 L1257.6,671.8 L1260.6,672.4 L1263.5,672.9 L1266.5,673.5 L1269.4,674.0 L1272.3,674.6 L1275.3,675.3 L1278.2,675.9 L1281.1,676.5 L1284.0,677.2 L1287.0,677.9 L1289.9,678.6 L1292.8,679.3 L1295.7,680.0 L1298.6,680.7 L1301.5,681.5 L1304.4,682.3 L1307.3,683.1 L1310.1,683.9 L1313.0,684.7 L1315.9,685.5 L1318.8,686.3 L1321.6,687.2 L1324.5,688.1 L1327.4,688.9 L1330.2,689.8 L1333.1,690.8 L1335.9,691.7 L1338.8,692.6 L1341.6,693.6 L1344.4,694.5 L1347.3,695.5 L1350.1,696.5 L1352.9,697.5 L1355.7,698.5 L1358.5,699.5 L1361.4,700.5 L1364.2,701.6 L1367.0,702.6 L1369.8,703.7 L1372.6,704.7 L1375.3,705.8 L1378.1,706.9 L1380.9,708.0 L1383.7,709.1 L1386.5,710.3 L1389.2,711.4 L1392.0,712.5 L1394.8,713.7 L1397.5,714.8 L1400.3,716.0 L1403.0,717.2 L1405.8,718.3 L1408.5,719.5 L1411.3,720.7 L1414.0,721.9 L1416.8,723.1 L1419.5,724.4 L1422.2,725.6 L1425.0,726.8 L1427.7,728.1 L1430.4,729.3 L1433.1,730.6 L1435.8,731.8 L1438.5,733.1 L1441.3,734.4 L1444.0,735.6 L1446.7,736.9 L1449.4,738.2 L1452.1,739.5 L1454.8,740.8 L1457.5,742.1 L1460.2,743.4 L1462.8,744.7 L1465.5,746.0 L1468.2,747.3 L1470.9,748.7 L1473.6,750.0 L1476.3,751.3 L1479.0,752.7 L1481.6,754.0 L1484.3,755.3 L1487.0,756.7 L1489.7,758.0 L1492.3,759.4 L1495.0,760.7 L1497.7,762.1 L1500.3,763.4 L1503.0,764.8 L1505.7,766.1 L1508.3,767.5 L1511.0,768.9 L1513.7,770.2 L1516.3,771.6 L1519.0,773.0 L1521.7,774.3 L1524.3,775.7 L1527.0,777.1 L1529.6,778.4 L1532.3,779.8 L1535.0,781.2 L1537.6,782.5 L1540.3,783.9 L1543.0,785.3 L1545.6,786.6 L1548.3,788.0 L1550.9,789.4 L1553.6,790.7 L1556.3,792.1 L1558.9,793.5 L1561.6,794.8 L1564.3,796.2 L1566.9,797.5 L1569.6,798.9 L1572.3,800.2 L1574.9,801.6 L1577.6,802.9 L1580.3,804.3 L1583.0,805.6 L1585.6,807.0 L1588.3,808.3 L1591.0,809.6 L1593.7,811.0 L1596.4,812.3 L1599.1,813.6 L1601.7,814.9 L1604.4,816.2 L1607.1,817.5 L1609.8,818.8 L1612.5,820.1 L1615.2,821.4 L1617.9,822.7 L1620.6,824.0 L1623.3,825.3 L1626.0,826.6 L1628.7,827.8 L1631.5,829.1 L1634.2,830.3 L1636.9,831.6 L1639.6,832.8 L1642.3,834.1 L1645.1,835.3 L1647.8,836.5 L1650.5,837.7 L1653.3,838.9 L1656.0,840.1 L1658.8,841.3 L1661.5,842.5 L1664.3,843.7 L1667.0,844.8 L1669.8,846.0 L1672.6,847.1 L1675.3,848.3 L1678.1,849.4 L1680.9,850.5 L1683.7,851.6" stroke="#FF8000" stroke-width="8" fill="none" stroke-linejoin="round"/>
<path d="M949.1,1092.3 L950.5,1089.7 L952.0,1087.0 L953.4,1084.4 L954.9,1081.8 L956.4,1079.2 L958.0,1076.7 L959.6,1074.1 L961.2,1071.6 L962.9,1069.1 L964.6,1066.6 L966.3,1064.2 L968.0,1061.7 L969.8,1059.3 L971.6,1056.9 L973.4,1054.5 L975.3,1052.2 L977.2,1049.9 L979.1,1047.6 L981.0,1045.3 L983.0,1043.0 L985.0,1040.8 L987.0,1038.6 L989.1,1036.4 L991.2,1034.2 L993.3,1032.1 L995.4,1030.0 L997.6,1027.9 L999.7,1025.9 L1001.9,1023.8 L1004.2,1021.8 L1006.4,1019.8 L1008.7,1017.9 L1011.0,1016.0 L1013.3,1014.0 L1015.6,1012.2 L1018.0,1010.3 L1020.4,1008.5 L1022.8,1006.7 L1025.2,1004.9 L1027.6,1003.2 L1030.1,1001.5 L1032.6,999.8 L1035.0,998.1 L1037.6,996.5 L1040.1,994.9 L1042.6,993.3 L1045.2,991.7 L1047.8,990.2 L1050.4,988.7 L1053.0,987.2 L1055.6,985.8 L1058.3,984.4 L1060.9,983.0 L1063.6,981.6 L1066.3,980.3 L1069.0,979.0 L1071.7,977.7 L1074.4,976.5 L1077.1,975.2 L1079.9,974.0 L1082.6,972.9 L1085.4,971.7 L1088.2,970.6 L1091.0,969.5 L1093.8,968.5 L1096.6,967.4 L1099.4,966.4 L1102.3,965.5 L1105.1,964.5 L1108.0,963.6 L1110.8,962.7 L1113.7,961.8 L1116.6,961.0 L1119.5,960.2 L1122.4,959.4 L1125.3,958.7 L1128.2,957.9 L1131.1,957.2 L1134.0,956.5 L1136.9,955.9 L1139.9,955.3 L1142.8,954.7 L1145.7,954.1 L1148.7,953.6 L1151.6,953.1 L1154.6,952.6 L1157.6,952.2 L1160.5,951.7 L1163.5,951.3 L1166.5,951.0 L1169.5,950.6 L1172.4,950.3 L1175.4,950.0 L1178.4,949.8 L1181.4,949.5 L1184.4,949.3 L1187.4,949.2 L1190.4,949.0 L1193.4,948.9 L1196.4,948.8 L1199.4,948.7 L1202.4,948.7 L1205.4,948.7 L1208.3,948.7 L1211.3,948.7 L1214.3,948.8 L1217.3,948.9 L1220.3,949.0 L1223.3,949.1 L1226.3,949.3 L1229.3,949.5 L1232.3,949.7 L1235.3,949.9 L1238.3,950.2 L1241.3,950.5 L1244.2,950.8 L1247.2,951.1 L1250.2,951.4 L1253.2,951.8 L1256.1,952.2 L1259.1,952.6 L1262.1,953.0 L1265.0,953.5 L1268.0,954.0 L1271.0,954.5 L1273.9,955.0 L1276.9,955.5 L1279.8,956.1 L1282.8,956.6 L1285.7,957.2 L1288.6,957.8 L1291.6,958.4 L1294.5,959.1 L1297.4,959.7 L1300.3,960.4 L1303.3,961.1 L1306.2,961.8 L1309.1,962.5 L1312.0,963.3 L1314.9,964.0 L1317.8,964.8 L1320.7,965.6 L1323.6,966.4 L1326.4,967.2 L1329.3,968.0 L1332.2,968.9 L1335.1,969.7 L1337.9,970.6 L1340.8,971.5 L1343.7,972.4 L1346.5,973.3 L1349.4,974.2 L1352.2,975.2 L1355.0,976.1 L1357.9,977.1 L1360.7,978.1 L1363.5,979.1 L1366.4,980.1 L1369.2,981.1 L1372.0,982.1 L1374.8,983.2 L1377.6,984.2 L1380.4,985.3 L1383.2,986.4 L1386.0,987.4 L1388.8,988.5 L1391.6,989.6 L1394.4,990.8 L1397.2,991.9 L1399.9,993.0 L1402.7,994.2 L1405.5,995.3 L1408.2,996.5 L1411.0,997.7 L1413.7,998.8 L1416.5,1000.0 L1419.2,1001.2 L1422.0,1002.5 L1424.7,1003.7 L1427.4,1004.9 L1430.2,1006.1 L1432.9,1007.4 L1435.6,1008.6 L1438.3,1009.9 L1441.1,1011.2 L1443.8,1012.4 L1446.5,1013.7 L1449.2,1015.0 L1451.9,1016.3 L1454.6,1017.6 L1457.3,1018.9 L1460.0,1020.3 L1462.7,1021.6 L1465.3,1022.9 L1468.0,1024.2 L1470.7,1025.6 L1473.4,1026.9 L1476.1,1028.3 L1478.7,1029.6 L1481.4,1031.0 L1484.1,1032.4 L1486.7,1033.8 L1489.4,1035.1 L1492.1,1036.5 L1494.7,1037.9 L1497.4,1039.3 L1500.0,1040.7 L1502.7,1042.1 L1505.3,1043.5 L1508.0,1044.9 L1510.6,1046.3 L1513.2,1047.8 L1515.9,1049.2 L1518.5,1050.6 L1521.1,1052.0 L1523.8,1053.5 L1526.4,1054.9 L1529.0,1056.3 L1531.7,1057.8 L1534.3,1059.2 L1536.9,1060.7 L1539.6,1062.1 L1542.2,1063.5 L1544.8,1065.0 L1547.4,1066.4 L1550.0,1067.9 L1552.7,1069.4 L1555.3,1070.8 L1557.9,1072.3 L1560.5,1073.7 L1563.1,1075.2 L1565.8,1076.6 L1568.4,1078.1 L1571.0,1079.6 L1573.6,1081.0 L1576.2,1082.5 L1578.8,1084.0 L1581.5,1085.4 L1584.1,1086.9 L1586.7,1088.3 L1589.3,1089.8 L1591.9,1091.3" stroke="#008000" stroke-width="8" fill="none" stroke-linejoin="round"/>
<polygon points="833.3,786.6 837.7,786.6 867.5,816.4 867.5,820.8 837.7,850.6 833.3,850.6 803.5,820.8 803.5,816.4" fill="#626262" stroke="#626262" stroke-width="1.5" stroke-linejoin="round"/>
<polygon points="955.8,626.5 960.2,626.5 990.0,656.3 990.0,660.7 960.2,690.5 955.8,690.5 926.0,660.7 926.0,656.3" fill="#626262" stroke="#626262" stroke-width="1.5" stroke-linejoin="round"/>
<polygon points="1080.8,449.0 1085.2,449.0 1115.0,478.8 1115.0,483.2 1085.2,513.0 1080.8,513.0 1051.0,483.2 1051.0,478.8" fill="#626262" stroke="#626262" stroke-width="1.5" stroke-linejoin="round"/>
<polygon points="1213.8,383.0 1218.2,383.0 1248.0,412.8 1248.0,417.2 1218.2,447.0 1213.8,447.0 1184.0,417.2 1184.0,412.8" fill="#626262" stroke="#626262" stroke-width="1.5" stroke-linejoin="round"/>
<polygon points="1313.2,378.5 1317.6,378.5 1347.4,408.3 1347.4,412.7 1317.6,442.5 1313.2,442.5 1283.4,412.7 1283.4,408.3" fill="#626262" stroke="#626262" stroke-width="1.5" stroke-linejoin="round"/>
<polygon points="1444.8,369.8 1449.2,369.8 1479.0,399.6 1479.0,404.0 1449.2,433.8 1444.8,433.8 1415.0,404.0 1415.0,399.6" fill="#626262" stroke="#626262" stroke-width="1.5" stroke-linejoin="round"/>
<polygon points="1544.6,377.8 1549.0,377.8 1578.8,407.6 1578.8,412.0 1549.0,441.8 1544.6,441.8 1514.8,412.0 1514.8,407.6" fill="#626262" stroke="#626262" stroke-width="1.5" stroke-linejoin="round"/>
<polygon points="1676.8,411.6 1681.2,411.6 1711.0,441.4 1711.0,445.8 1681.2,475.6 1676.8,475.6 1647.0,445.8 1647.0,441.4" fill="#626262" stroke="#626262" stroke-width="1.5" stroke-linejoin="round"/>
<polygon points="319.7,1113.0 373.7,1082.7 373.7,1143.3" fill="#FF0080" stroke="#FF0080" stroke-width="1.5" stroke-linejoin="round"/>
<polygon points="561.2,1092.5 615.2,1062.2 615.2,1122.8" fill="#FF0080" stroke="#FF0080" stroke-width="1.5" stroke-linejoin="round"/>
<polygon points="680.6,987.0 734.6,956.7 734.6,1017.3" fill="#FF0080" stroke="#FF0080" stroke-width="1.5" stroke-linejoin="round"/>
<polygon points="799.7,814.0 853.7,783.7 853.7,844.3" fill="#FF0080" stroke="#FF0080" stroke-width="1.5" stroke-linejoin="round"/>
<polygon points="922.6,666.0 976.6,635.7 976.6,696.3" fill="#FF0080" stroke="#FF0080" stroke-width="1.5" stroke-linejoin="round"/>
<polygon points="1048.9,555.3 1102.9,525.0 1102.9,585.6" fill="#FF0080" stroke="#FF0080" stroke-width="1.5" stroke-linejoin="round"/>
<polygon points="1180.5,521.0 1234.5,490.7 1234.5,551.3" fill="#FF0080" stroke="#FF0080" stroke-width="1.5" stroke-linejoin="round"/>
<polygon points="1280.5,513.0 1334.5,482.7 1334.5,543.3" fill="#FF0080" stroke="#FF0080" stroke-width="1.5" stroke-linejoin="round"/>
<polygon points="1411.6,542.7 1465.6,512.4 1465.6,573.0" fill="#FF0080" stroke="#FF0080" stroke-width="1.5" stroke-linejoin="round"/>
<polygon points="1511.5,545.5 1565.5,515.2 1565.5,575.8" fill="#FF0080" stroke="#FF0080" stroke-width="1.5" stroke-linejoin="round"/>
<polygon points="1644.0,573.8 1698.0,543.5 1698.0,604.1" fill="#FF0080" stroke="#FF0080" stroke-width="1.5" stroke-linejoin="round"/>
<polygon points="751.4,1058.8 697.4,1028.5 697.4,1089.1" fill="#FF8000" stroke="#FF8000" stroke-width="1.5" stroke-linejoin="round"/>
<polygon points="870.4,880.9 816.4,850.6 816.4,911.2" fill="#FF8000" stroke="#FF8000" stroke-width="1.5" stroke-linejoin="round"/>
<polygon points="993.3,745.7 939.3,715.4 939.3,776.0" fill="#FF8000" stroke="#FF8000" stroke-width="1.5" stroke-linejoin="round"/>
<polygon points="1119.7,635.9 1065.7,605.6 1065.7,666.2" fill="#FF8000" stroke="#FF8000" stroke-width="1.5" stroke-linejoin="round"/>
<polygon points="1251.3,609.5 1197.3,579.2 1197.3,639.8" fill="#FF8000" stroke="#FF8000" stroke-width="1.5" stroke-linejoin="round"/>
<polygon points="1351.3,615.5 1297.3,585.2 1297.3,645.8" fill="#FF8000" stroke="#FF8000" stroke-width="1.5" stroke-linejoin="round"/>
<polygon points="1483.4,647.9 1429.4,617.6 1429.4,678.2" fill="#FF8000" stroke="#FF8000" stroke-width="1.5" stroke-linejoin="round"/>
<polygon points="1582.3,687.1 1528.3,656.8 1528.3,717.4" fill="#FF8000" stroke="#FF8000" stroke-width="1.5" stroke-linejoin="round"/>
<polygon points="1715.5,751.0 1661.5,720.7 1661.5,781.3" fill="#FF8000" stroke="#FF8000" stroke-width="1.5" stroke-linejoin="round"/>
<polygon points="1083.4,955.5 1111.7,976.1 1100.9,1009.4 1065.9,1009.4 1055.1,976.1" fill="#008000" stroke="#008000" stroke-width="1.5" stroke-linejoin="round"/>
<polygon points="1215.8,908.9 1244.1,929.5 1233.3,962.8 1198.3,962.8 1187.5,929.5" fill="#008000" stroke="#008000" stroke-width="1.5" stroke-linejoin="round"/>
<polygon points="1315.4,908.7 1343.7,929.3 1332.9,962.6 1297.9,962.6 1287.1,929.3" fill="#008000" stroke="#008000" stroke-width="1.5" stroke-linejoin="round"/>
<polygon points="1447.6,940.4 1475.9,961.0 1465.1,994.3 1430.1,994.3 1419.3,961.0" fill="#008000" stroke="#008000" stroke-width="1.5" stroke-linejoin="round"/>
<polygon points="1546.8,973.0 1575.1,993.6 1564.3,1026.9 1529.3,1026.9 1518.5,993.6" fill="#008000" stroke="#008000" stroke-width="1.5" stroke-linejoin="round"/>
<polygon points="1680.0,1014.5 1708.3,1035.1 1697.5,1068.4 1662.5,1068.4 1651.7,1035.1" fill="#008000" stroke="#008000" stroke-width="1.5" stroke-linejoin="round"/>
</g>
<polygon points="628.7,151.5 633.1,151.5 662.9,181.3 662.9,185.7 633.1,215.5 628.7,215.5 598.9,185.7 598.9,181.3" fill="#626262" stroke="#626262" stroke-width="1.5" stroke-linejoin="round"/>
<polygon points="788.3,183.0 842.3,152.7 842.3,213.3" fill="#FF0080" stroke="#FF0080" stroke-width="1.5" stroke-linejoin="round"/>
<polygon points="1088.4,182.7 1034.4,152.4 1034.4,213.0" fill="#FF8000" stroke="#FF8000" stroke-width="1.5" stroke-linejoin="round"/>
<polygon points="1316.0,153.3 1344.8,174.2 1333.8,208.1 1298.2,208.1 1287.2,174.2" fill="#008000" stroke="#008000" stroke-width="1.5" stroke-linejoin="round"/>
<path d="M764,272.9H885" stroke="#626262" stroke-width="8" stroke-dasharray="14 21.5" stroke-linecap="round"/>
<path d="M1104.5,273H1227.5" stroke="#626262" stroke-width="7.5" stroke-linecap="round"/>

</svg></body></html>
